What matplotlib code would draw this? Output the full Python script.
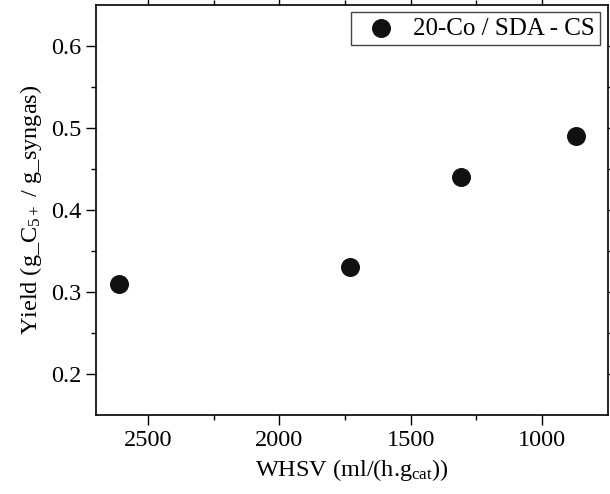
import numpy as np
import matplotlib.pyplot as plt

# data
whsv = [2610, 1730, 1310, 870]
yield_c5 = [0.31, 0.33, 0.44, 0.49]

xticks = [2500, 2000, 1500, 1000]
yticks = [0.2, 0.3, 0.4, 0.5, 0.6]

plt.rcParams['font.family'] = 'Liberation Serif'
plt.rcParams['mathtext.fontset'] = 'custom'
plt.rcParams['mathtext.rm'] = 'Liberation Serif'
plt.rcParams['mathtext.it'] = 'Liberation Serif:italic'

fig = plt.figure(figsize=(6.1, 4.94), dpi=100)
ax = fig.add_axes([0.157, 0.16, 0.839, 0.83])

ax.scatter(whsv, yield_c5, s=160, color='#111111', zorder=3, label='20-Co / SDA - CS')

ax.set_xlim(2700, 750)
ax.set_ylim(0.15, 0.65)
ax.set_xticks(xticks)
ax.set_xticks([2250, 1750, 1250], minor=True)
ax.set_yticks(yticks)
ax.set_yticks([0.25, 0.35, 0.45, 0.55], minor=True)
ax.set_yticklabels([str(v) for v in yticks])

ax.tick_params(which='both', direction='out', top=True, right=True, labelsize=17.5, width=1)
ax.tick_params(which='major', length=7)
ax.tick_params(which='minor', length=3.5)
for s in ax.spines.values():
    s.set_linewidth(1.2)

ax.set_xlabel('WHSV (ml/(h.g$_{\\mathregular{cat}}$))', fontsize=17.5, labelpad=5)
ax.set_ylabel('Yield (g_C$_{\\mathregular{5+}}$ / g_syngas)', fontsize=17.5, labelpad=5)

leg = ax.legend(loc='upper right', fontsize=18, fancybox=False, edgecolor='#444444',
                borderaxespad=0.3, handletextpad=0.3, borderpad=0.2, framealpha=1)
leg.get_frame().set_linewidth(1)

fig.savefig('out.png', dpi=100)
